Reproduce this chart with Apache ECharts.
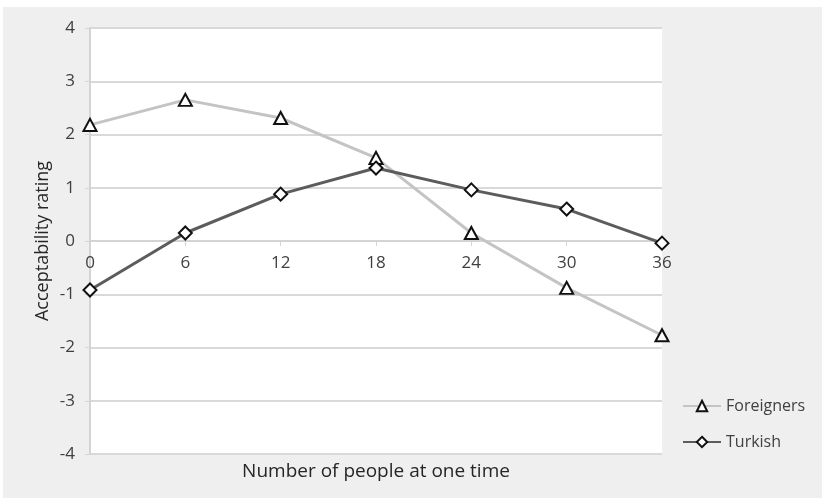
<!DOCTYPE html>
<html>
<head>
<meta charset="utf-8">
<script src="https://cdn.jsdelivr.net/npm/echarts@6/dist/echarts.min.js"></script>
<style>
html,body{margin:0;padding:0;background:#fff;}
#chart{width:825px;height:504px;}
</style>
</head>
<body>
<div id="chart"></div>
<script>
const categories = ['0', '6', '12', '18', '24', '30', '36'];
const foreigners = [2.18, 2.65, 2.31, 1.56, 0.15, -0.88, -1.77];
const turkish = [-0.92, 0.15, 0.88, 1.37, 0.96, 0.6, -0.04];
const yTicks = { min: -4, max: 4, interval: 1 };

const FONT = '"Open Sans", sans-serif';
const chart = echarts.init(document.getElementById('chart'));
const gridTop = 28, gridBottom = 50, H = 504;
const plotH = H - gridTop - gridBottom;
const zeroOffset = -plotH * (0 - yTicks.min) / (yTicks.max - yTicks.min);
chart.setOption({
  animation: false,
  backgroundColor: '#ffffff',
  graphic: [
    { type: 'rect', z: -10, shape: { x: 3, y: 7, width: 819, height: 491 }, style: { fill: '#efefef' } },
    { type: 'text', x: 376, y: 472, style: { text: 'Number of people at one time', font: '19px ' + FONT, fill: '#262626', align: 'center', verticalAlign: 'middle' } }
  ],
  grid: { left: 90, right: 163, top: gridTop, bottom: gridBottom, show: true, backgroundColor: '#ffffff', borderWidth: 0 },
  legend: {
    orient: 'vertical', left: 682, top: 398, padding: 0, itemWidth: 38, itemHeight: 13, itemGap: 20,
    textStyle: { fontFamily: FONT, fontSize: 16, color: '#404040' },
    data: ['Foreigners', 'Turkish']
  },
  xAxis: {
    type: 'category', data: categories, boundaryGap: false, position: 'bottom', offset: zeroOffset,
    axisLine: { onZero: false, lineStyle: { color: '#d4d4d4', width: 2 } },
    axisTick: { show: true, length: 5, lineStyle: { color: '#d4d4d4' } },
    axisLabel: { fontFamily: FONT, fontSize: 17, color: '#404040', margin: 14 }
  },
  yAxis: {
    type: 'value', min: yTicks.min, max: yTicks.max, interval: yTicks.interval,
    name: 'Acceptability rating', nameLocation: 'middle', nameGap: 38, nameMoveOverlap: false,
    nameTextStyle: { fontFamily: FONT, fontSize: 18, color: '#262626' },
    axisLine: { show: true, lineStyle: { color: '#d4d4d4', width: 2 } },
    axisTick: { show: true, length: 5, lineStyle: { color: '#d4d4d4' } },
    axisLabel: { fontFamily: FONT, fontSize: 17, color: '#404040', margin: 15 },
    splitLine: { lineStyle: { color: '#d9d9d9', width: 2 } }
  },
  series: [
    {
      name: 'Foreigners', type: 'line', data: foreigners, symbol: 'triangle', symbolSize: [13, 12],
      lineStyle: { color: '#c4c4c4', width: 3 },
      itemStyle: { color: '#ffffff', borderColor: '#111111', borderWidth: 2 },
      z: 2
    },
    {
      name: 'Turkish', type: 'line', data: turkish, symbol: 'diamond', symbolSize: [13, 13],
      lineStyle: { color: '#5c5c5c', width: 3 },
      itemStyle: { color: '#ffffff', borderColor: '#111111', borderWidth: 2 },
      z: 3
    }
  ]
});
</script>
</body>
</html>
